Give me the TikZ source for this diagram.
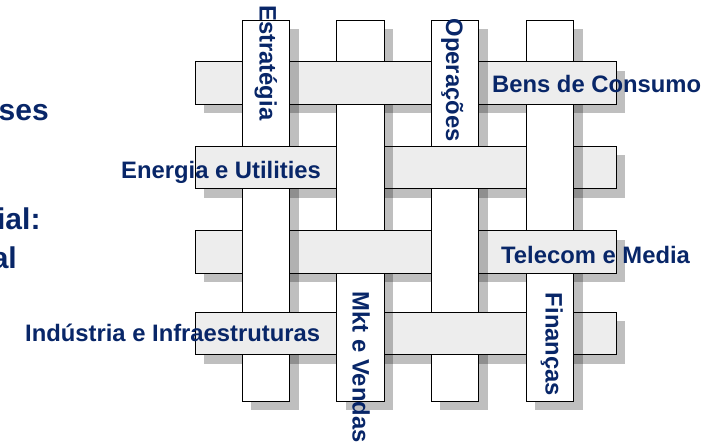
\documentclass[tikz,border=0pt]{standalone}
\usepackage{fontspec}
\setmainfont{Liberation Sans}
\definecolor{navy}{RGB}{8,38,104}
\definecolor{rowfill}{RGB}{237,237,237}
\begin{document}
\begin{tikzpicture}[x=1pt,y=-1pt,
  shadow/.style={fill=black,fill opacity=0.25},
  rowstrip/.style={draw=black,line width=1pt,fill=rowfill},
  colstrip/.style={draw=black,line width=1pt,fill=white},
  lbl/.style={text=navy,font=\fontsize{23.8}{28}\selectfont\bfseries,inner sep=0pt},
  big/.style={text=navy,font=\fontsize{30}{36}\selectfont\bfseries,inner sep=0pt}]
\useasboundingbox (0,0) rectangle (725,445);
\clip (0,0) rectangle (725,445);
% shadows of all strips
\foreach \x in {242.3,336.9,431.4,526.3}
  \fill[shadow] (\x+9,29) rectangle (\x+56.3,410);
\foreach \y in {61.7,146.3,230.7,312.3}
  \fill[shadow] (204,\y+9) rectangle (625,\y+51.5);
% horizontal strips
\foreach \y in {61.7,146.3,230.7,312.3}
  \draw[rowstrip] (195,\y) rectangle (616,\y+42.5);
% column shadows on rows where the column lies on top
\foreach \x/\y in {242.3/61.7,242.3/230.7,431.4/61.7,431.4/230.7,
                   336.9/146.3,336.9/312.3,526.3/146.3,526.3/312.3}
  \fill[shadow] (\x+47.3,\y) rectangle (\x+56.3,\y+42.5);
% vertical strips (visible pieces)
\foreach \x in {242.3,431.4}{
  \draw[colstrip] (\x,20) rectangle (\x+47.3,146.3);
  \draw[colstrip] (\x,188.8) rectangle (\x+47.3,312.3);
  \draw[colstrip] (\x,354.8) rectangle (\x+47.3,401);
}
\foreach \x in {336.9,526.3}{
  \draw[colstrip] (\x,20) rectangle (\x+47.3,61.7);
  \draw[colstrip] (\x,104.2) rectangle (\x+47.3,230.7);
  \draw[colstrip] (\x,273.2) rectangle (\x+47.3,401);
}
% row labels
\node[lbl,anchor=base west] (bens) at (492,92.7) {Bens de Consumo};
\node[lbl,anchor=base west] (energia) at (121,178.8) {Energia e Utilities};
\node[lbl,anchor=base west] (telecom) at (501,263.3) {Telecom e Media};
\node[lbl,anchor=base west] (industria) at (25,341.7) {Indústria e Infraestruturas};
% column labels
\node[lbl,rotate=-90,anchor=base west] (estrategia) at (259.5,5) {Estratégia};
\node[lbl,rotate=-90,anchor=base west] (operacoes) at (446,18.3) {Operações};
\node[lbl,rotate=-90,anchor=base west] (mkt) at (352.5,291.7) {Mkt e Vendas};
\node[lbl,rotate=-90,anchor=base west] (financas) at (545.5,292.7) {Finanças};
% title fragments at the left edge (cut by the picture edge as in the reference)
\node[big,anchor=base east] (t1) at (49,120.5) {ses};
\node[big,anchor=base east] (t2) at (40.7,229) {ial:};
\node[big,anchor=base east] (t3) at (17,268.5) {al};
\end{tikzpicture}
\end{document}
